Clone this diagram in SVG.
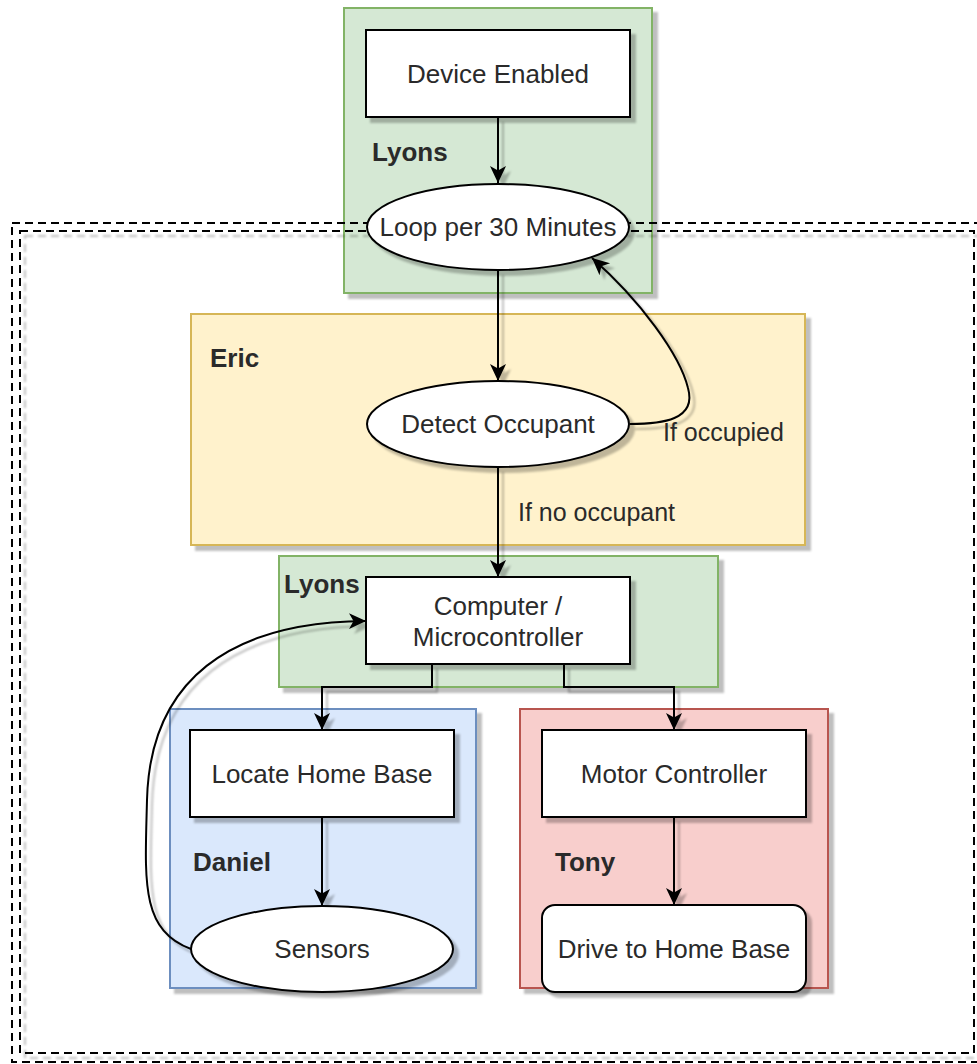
<svg xmlns="http://www.w3.org/2000/svg" width="977" height="1064" viewBox="0 0 977 1064">
<defs>
<filter id="sh" x="-10%" y="-10%" width="130%" height="130%">
<feGaussianBlur in="SourceAlpha" stdDeviation="0.8" result="b"/>
<feOffset in="b" dx="5" dy="5" result="o"/>
<feFlood flood-color="#000" flood-opacity="0.25"/>
<feComposite in2="o" operator="in" result="s"/>
<feMerge><feMergeNode in="s"/><feMergeNode in="SourceGraphic"/></feMerge>
</filter>
<marker id="ah" markerWidth="18" markerHeight="18" refX="17" refY="8" orient="auto" markerUnits="userSpaceOnUse">
<path d="M0,0 L17,8 L0,16 L4.5,8 Z" fill="#000"/>
</marker>
</defs>
<style>
.green{fill:#d5e8d4;stroke:#82b366;stroke-width:2}
.yellow{fill:#fff2cc;stroke:#d6b656;stroke-width:2}
.blue{fill:#dae8fc;stroke:#6c8ebf;stroke-width:2}
.red{fill:#f8cecc;stroke:#b85450;stroke-width:2}
.node{fill:#fff;stroke:#000;stroke-width:2}
.frame{fill:none;stroke:#000;stroke-width:2;stroke-dasharray:8 5}
.t{font-family:"Liberation Sans",Arial,sans-serif;font-size:26px;fill:#2a2a2a;text-anchor:middle;dominant-baseline:central}
.lbl{font-family:"Liberation Sans",Arial,sans-serif;font-size:26px;font-weight:bold;fill:#2a2a2a}
.el{font-family:"Liberation Sans",Arial,sans-serif;font-size:25px;fill:#2a2a2a}
.c{fill:none;stroke:#000;stroke-width:2}
</style>

<g id="lyons-top">
<rect class="green" x="344" y="8" width="308" height="285" filter="url(#sh)"/>
<text class="lbl" x="372" y="161">Lyons</text>
</g>
<g id="eric">
<rect class="yellow" x="191" y="314" width="614" height="231" filter="url(#sh)"/>
<text class="lbl" x="210" y="367">Eric</text>
</g>
<g id="lyons-mid">
<rect class="green" x="279" y="556" width="439" height="131" filter="url(#sh)"/>
<text class="lbl" x="284" y="593">Lyons</text>
</g>
<g id="daniel">
<rect class="blue" x="170" y="709" width="306" height="279" filter="url(#sh)"/>
<text class="lbl" x="193" y="871">Daniel</text>
</g>
<g id="tony">
<rect class="red" x="520" y="709" width="308" height="279" filter="url(#sh)"/>
<text class="lbl" x="555" y="871">Tony</text>
</g>

<g id="frame">
<rect class="frame" x="12" y="223" width="1000" height="839"/>
<rect class="frame" x="20" y="231" width="954" height="822" filter="url(#sh)"/>
</g>

<g id="connectors">
<g filter="url(#sh)">
<path class="c" d="M498,117 L498,183" marker-end="url(#ah)"/>
<path class="c" d="M498,270 L498,381" marker-end="url(#ah)"/>
<path class="c" d="M630,424 C662,424 697,420 688,388 C680,355 640,300 592,258" marker-end="url(#ah)"/>
<path class="c" d="M498,467 L498,577" marker-end="url(#ah)"/>
<path class="c" d="M432,664 L432,687 L322,687 L322,730" marker-end="url(#ah)"/>
<path class="c" d="M564,664 L564,687 L674,687 L674,730" marker-end="url(#ah)"/>
<path class="c" d="M322,817 L322,906" marker-end="url(#ah)"/>
<path class="c" d="M674,817 L674,905" marker-end="url(#ah)"/>
<path class="c" d="M191,949 C140,930 145,880 147,800 C150,680 230,622 366,621" marker-end="url(#ah)"/>
</g>
<text class="el" x="663" y="441">If occupied</text>
<text class="el" x="518" y="521">If no occupant</text>
</g>

<g id="device-enabled">
<rect class="node" x="366" y="30" width="264" height="87" filter="url(#sh)"/>
<text class="t" x="498" y="74">Device Enabled</text>
</g>
<g id="loop">
<ellipse class="node" cx="498" cy="227" rx="131" ry="43" filter="url(#sh)"/>
<text class="t" x="498" y="227">Loop per 30 Minutes</text>
</g>
<g id="detect">
<ellipse class="node" cx="498" cy="424" rx="131" ry="43" filter="url(#sh)"/>
<text class="t" x="498" y="424">Detect Occupant</text>
</g>
<g id="computer">
<rect class="node" x="366" y="577" width="264" height="87" filter="url(#sh)"/>
<text class="t" x="498" y="606">Computer /</text>
<text class="t" x="498" y="637">Microcontroller</text>
</g>
<g id="locate">
<rect class="node" x="190" y="730" width="264" height="87" filter="url(#sh)"/>
<text class="t" x="322" y="774">Locate Home Base</text>
</g>
<g id="sensors">
<ellipse class="node" cx="322" cy="949" rx="131" ry="43" filter="url(#sh)"/>
<text class="t" x="322" y="949">Sensors</text>
</g>
<g id="motor">
<rect class="node" x="542" y="730" width="264" height="87" filter="url(#sh)"/>
<text class="t" x="674" y="774">Motor Controller</text>
</g>
<g id="drive">
<rect class="node" x="542" y="905" width="264" height="87" rx="13" ry="13" filter="url(#sh)"/>
<text class="t" x="674" y="949">Drive to Home Base</text>
</g>
</svg>
